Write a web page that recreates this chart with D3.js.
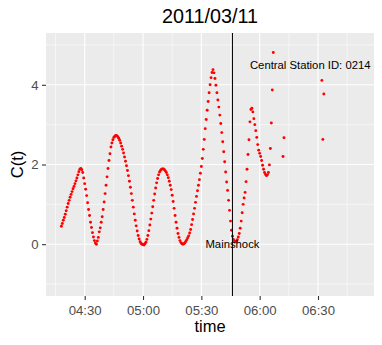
<!DOCTYPE html>
<html>
<head>
<meta charset="utf-8">
<script src="https://cdn.jsdelivr.net/npm/d3@7"></script>
<style>
    body { margin: 0; background: #fff; }
    svg { display: block; font-family: "Liberation Sans", Arial, Helvetica, sans-serif; }
</style>
</head>
<body>
<div id="chart"></div>
<script>
const chartTitle = "2011/03/11";
const xTitle = "time";
const yTitle = "C(t)";

// regular record, one reading every 30 seconds from 04:18
const seriesStart = "04:18:00";
const stepSeconds = 30;
const cValues = [
    0.45, 0.52, 0.60, 0.67, 0.75, 0.84, 0.93, 1.02, 1.10, 1.18, 1.25, 1.32, 1.39, 1.45, 1.52, 1.59, 1.66, 1.74, 1.82, 1.88, 1.90,
    1.87, 1.80, 1.66, 1.52, 1.38, 1.22, 1.04, 0.87, 0.72, 0.55, 0.42, 0.29, 0.18, 0.09, 0.03, 0.00,
    0.08, 0.17, 0.31, 0.41, 0.55, 0.69, 0.87, 1.06, 1.27, 1.48, 1.69, 1.90, 2.10, 2.27, 2.44, 2.54, 2.62, 2.68, 2.71, 2.73,
    2.72, 2.70, 2.66, 2.61, 2.54, 2.46, 2.38, 2.29, 2.19, 2.08, 1.97, 1.85, 1.72, 1.58, 1.43, 1.27, 1.10, 0.93, 0.76, 0.60,
    0.46, 0.33, 0.22, 0.13, 0.06, 0.02, 0.00, -0.01,
    -0.02, 0.01, 0.05, 0.12, 0.22, 0.34, 0.48, 0.63, 0.78, 0.94, 1.10, 1.26, 1.41, 1.54, 1.65, 1.74, 1.81, 1.85, 1.88, 1.89,
    1.89, 1.87, 1.84, 1.80, 1.74, 1.67, 1.58, 1.48, 1.37, 1.23, 1.07, 0.90, 0.72, 0.55, 0.40, 0.27, 0.17, 0.09, 0.04, 0.01,
    0.00, 0.01,
    0.03, 0.07, 0.11, 0.16, 0.21, 0.28, 0.37, 0.49, 0.62, 0.76, 0.90, 1.05, 1.20, 1.34, 1.48, 1.62, 1.78, 1.95, 2.15, 2.38,
    2.63, 2.90, 3.13, 3.36, 3.58, 3.80, 4.00, 4.18, 4.31, 4.38,
    4.30, 4.16, 3.99, 3.80, 3.62, 3.44, 3.24, 3.03, 2.80, 2.57, 2.32, 2.07, 1.81, 1.56, 1.35, 1.10, 0.85, 0.58, 0.35, 0.20,
    0.12, 0.08, 0.06,
    0.07, 0.11, 0.18, 0.27, 0.40, 0.58, 0.79, 1.00, 1.16, 1.30, 1.57, 1.88, 2.25, 2.62, 3.07, 3.38, 3.41, 3.32, 3.15, 3.00,
    2.85, 2.68, 2.50, 2.36, 2.28, 2.20, 2.10, 1.98, 1.88, 1.80, 1.75, 1.72, 1.74, 1.80, 1.99, 2.40, 3.04, 3.87, 4.81
];

// scattered readings after the record breaks up
const extraTimes = ["06:12:00", "06:12:30", "06:32:00", "06:32:30", "06:33:00"];
const extraValues = [2.20, 2.67, 4.11, 2.63, 3.77];

const xTicks = ["04:30:00", "05:00:00", "05:30:00", "06:00:00", "06:30:00"];
const xMinorTicks = ["04:15:00", "04:45:00", "05:15:00", "05:45:00", "06:15:00", "06:45:00"];
const yTicks = [0, 2, 4];
const yMinorTicks = [-1, 1, 3, 5];

const mainshockTime = "05:46:00";
const mainshockLabel = "Mainshock";
const stationLabel = "Central Station ID: 0214";
const stationLabelTime = "06:26:00";
const stationLabelValue = 4.5;

const xLimits = ["04:10:06", "06:58:48"];
const yLimits = [-1.3, 5.3];

function drawChart() {
    const width = 382;
    const height = 345;
    const margin = { top: 33, right: 8, bottom: 49, left: 46 };

    const parseTime = d3.utcParse("%H:%M:%S");
    const start = parseTime(seriesStart);

    const data = cValues.map((v, i) => ({ time: d3.utcSecond.offset(start, i * stepSeconds), value: v }))
        .concat(extraTimes.map((t, i) => ({ time: parseTime(t), value: extraValues[i] })));

    const x = d3.scaleUtc()
        .domain(xLimits.map(parseTime))
        .range([margin.left, width - margin.right]);

    const y = d3.scaleLinear()
        .domain(yLimits)
        .range([height - margin.bottom, margin.top]);

    const svg = d3.select("#chart").append("svg")
        .attr("width", width)
        .attr("height", height)
        .attr("viewBox", [0, 0, width, height]);

    svg.append("rect")
        .attr("width", width)
        .attr("height", height)
        .attr("fill", "#fff");

    // panel
    svg.append("rect")
        .attr("x", margin.left)
        .attr("y", margin.top)
        .attr("width", width - margin.left - margin.right)
        .attr("height", height - margin.top - margin.bottom)
        .attr("fill", "#EBEBEB");

    const grid = svg.append("g").attr("stroke", "#fff");

    grid.append("g").selectAll("line")
        .data(xMinorTicks.map(parseTime))
        .join("line")
        .attr("stroke-width", 0.55)
        .attr("x1", d => x(d)).attr("x2", d => x(d))
        .attr("y1", margin.top).attr("y2", height - margin.bottom);

    grid.append("g").selectAll("line")
        .data(yMinorTicks)
        .join("line")
        .attr("stroke-width", 0.55)
        .attr("x1", margin.left).attr("x2", width - margin.right)
        .attr("y1", d => y(d)).attr("y2", d => y(d));

    grid.append("g").selectAll("line")
        .data(xTicks.map(parseTime))
        .join("line")
        .attr("stroke-width", 1.1)
        .attr("x1", d => x(d)).attr("x2", d => x(d))
        .attr("y1", margin.top).attr("y2", height - margin.bottom);

    grid.append("g").selectAll("line")
        .data(yTicks)
        .join("line")
        .attr("stroke-width", 1.1)
        .attr("x1", margin.left).attr("x2", width - margin.right)
        .attr("y1", d => y(d)).attr("y2", d => y(d));

    svg.append("g")
        .attr("fill", "#FF0000")
        .selectAll("circle")
        .data(data)
        .join("circle")
        .attr("cx", d => x(d.time))
        .attr("cy", d => y(d.value))
        .attr("r", 1.45);

    svg.append("line")
        .attr("stroke", "#000")
        .attr("stroke-width", 1)
        .attr("x1", x(parseTime(mainshockTime))).attr("x2", x(parseTime(mainshockTime)))
        .attr("y1", margin.top).attr("y2", height - margin.bottom);

    svg.append("text")
        .attr("x", x(parseTime(mainshockTime)))
        .attr("y", y(0))
        .attr("dy", "0.36em")
        .attr("text-anchor", "middle")
        .attr("font-size", 11.3)
        .attr("fill", "#000")
        .text(mainshockLabel);

    svg.append("text")
        .attr("x", x(parseTime(stationLabelTime)))
        .attr("y", y(stationLabelValue))
        .attr("dy", "0.36em")
        .attr("text-anchor", "middle")
        .attr("font-size", 11.3)
        .attr("fill", "#000")
        .text(stationLabel);

    const xAxis = g => g
        .attr("transform", `translate(0,${height - margin.bottom})`)
        .call(d3.axisBottom(x)
            .tickValues(xTicks.map(parseTime))
            .tickFormat(d3.utcFormat("%H:%M"))
            .tickSize(4)
            .tickPadding(5.6))
        .call(g => g.select(".domain").remove());

    const yAxis = g => g
        .attr("transform", `translate(${margin.left},0)`)
        .call(d3.axisLeft(y)
            .tickValues(yTicks)
            .tickFormat(d3.format("d"))
            .tickSize(4)
            .tickPadding(3.3))
        .call(g => g.select(".domain").remove());

    svg.append("g").call(xAxis);
    svg.append("g").call(yAxis);

    svg.selectAll(".tick line").attr("stroke", "#333333").attr("stroke-width", 1.1);
    svg.selectAll(".tick text")
        .attr("fill", "#4D4D4D")
        .attr("font-size", 13.2)
        .attr("font-family", null);

    svg.append("text")
        .attr("x", (margin.left + width - margin.right) / 2)
        .attr("y", 23.3)
        .attr("text-anchor", "middle")
        .attr("font-size", 19.8)
        .text(chartTitle);

    svg.append("text")
        .attr("x", (margin.left + width - margin.right) / 2)
        .attr("y", 332)
        .attr("text-anchor", "middle")
        .attr("font-size", 16.5)
        .text(xTitle);

    svg.append("text")
        .attr("transform", `translate(23.2,${(margin.top + height - margin.bottom) / 2}) rotate(-90)`)
        .attr("text-anchor", "middle")
        .attr("font-size", 16.5)
        .text(yTitle);
}

drawChart();
</script>
</body>
</html>
